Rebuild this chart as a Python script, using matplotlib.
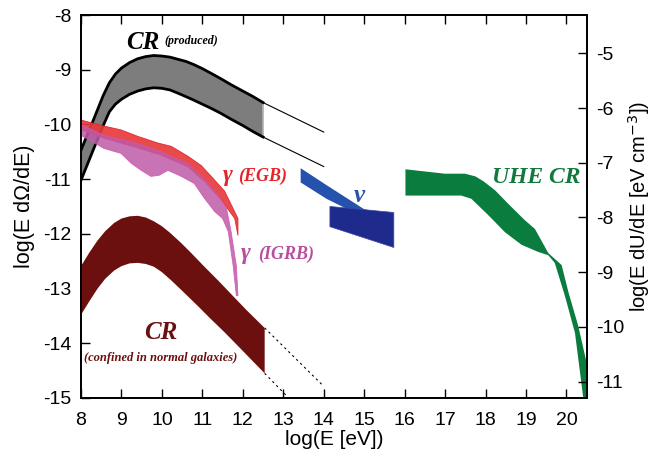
import matplotlib
matplotlib.use("Agg")
import matplotlib.pyplot as plt
import numpy as np

plt.rcParams['axes.unicode_minus'] = False
SANS = ['Liberation Sans', 'DejaVu Sans']
SERIF = ['Liberation Serif', 'DejaVu Serif']

# ---------------- data (log10 E [eV], log10 E dOmega/dE) ----------------
# CR produced (grey band)
cr_prod_up_x = [8.0, 8.3, 8.55, 8.7, 8.85, 9.0, 9.2, 9.4, 9.6, 9.8, 10.0, 10.2, 10.4, 10.6, 10.8, 11.0,
                11.2, 11.47, 11.7, 12.0, 12.25, 12.5]
cr_prod_up_y = [-10.47, -9.93, -9.47, -9.24, -9.08, -8.97, -8.87, -8.8, -8.76, -8.74, -8.75, -8.77, -8.81,
                -8.85, -8.91, -8.98, -9.06, -9.17, -9.27, -9.39, -9.49, -9.6]
cr_prod_lo_x = [8.0, 8.3, 8.55, 8.7, 8.85, 9.0, 9.2, 9.4, 9.6, 9.8, 10.0, 10.2, 10.4, 10.62, 10.8, 11.0,
                11.2, 11.44, 11.7, 12.0, 12.25, 12.5]
cr_prod_lo_y = [-11.02, -10.47, -10.02, -9.77, -9.63, -9.54, -9.45, -9.39, -9.35, -9.33, -9.34, -9.37,
                -9.43, -9.5, -9.56, -9.63, -9.7, -9.79, -9.9, -10.02, -10.13, -10.23]
cr_prod_ext_x = [12.5, 14.0]
cr_prod_ext_up = [-9.6, -10.14]
cr_prod_ext_lo = [-10.23, -10.77]

# gamma EGB (red band)
egb_up_x = [8.0, 8.57, 8.99, 9.41, 9.9, 10.23, 10.64, 10.97, 11.22, 11.55, 11.88, 11.88]
egb_up_y = [-9.92, -10.03, -10.1, -10.22, -10.34, -10.4, -10.58, -10.75, -10.95, -11.22, -11.72, -12.03]
egb_lo_x = [8.0, 8.57, 9.41, 9.98, 10.64, 11.05, 11.47, 11.8, 11.88]
egb_lo_y = [-10.1, -10.25, -10.43, -10.56, -10.77, -11.04, -11.38, -11.72, -12.03]

# gamma IGRB (magenta band)
igrb_up_x = [8.0, 8.57, 9.41, 9.98, 10.64, 11.05, 11.39, 11.6, 11.71, 11.84, 11.88]
igrb_up_y = [-10.0, -10.2, -10.35, -10.5, -10.72, -11.0, -11.3, -11.54, -11.96, -12.58, -13.13]
igrb_lo_x = [8.0, 8.57, 8.99, 9.24, 9.49, 9.73, 9.93, 10.15, 10.48, 10.8, 11.05, 11.3, 11.5, 11.64,
             11.76, 11.84]
igrb_lo_y = [-10.2, -10.44, -10.53, -10.71, -10.84, -10.95, -10.93, -10.84, -10.95, -11.08, -11.35,
             -11.59, -11.72, -11.96, -12.58, -13.13]

# neutrinos (two blue bands)
nu1_x = [13.43, 14.07, 15.0, 15.6]
nu1_up = [-10.8, -11.11, -11.55, -11.64]
nu1_lo = [-11.06, -11.36, -11.7, -11.95]
nu2_x = [14.14, 15.72]
nu2_up = [-11.49, -11.6]
nu2_lo = [-11.86, -12.24]

# UHE CR (green band)
uhe_up_x = [16.02, 16.99, 17.49, 17.75, 17.95, 18.23, 18.56, 18.97, 19.22, 19.55, 19.88, 20.05, 20.29,
            20.5, 20.6]
uhe_up_y = [-10.82, -10.9, -10.9, -10.95, -11.04, -11.2, -11.45, -11.75, -11.91, -12.35, -12.57, -13.07,
            -13.68, -14.36, -14.7]
uhe_lo_x = [16.02, 16.66, 17.4, 17.65, 18.07, 18.48, 18.89, 19.3, 19.55, 19.71, 19.96, 20.21, 20.41, 20.5]
uhe_lo_y = [-11.3, -11.3, -11.3, -11.36, -11.66, -11.97, -12.2, -12.33, -12.39, -12.53, -13.13, -13.81,
            -14.97, -15.3]

# CR confined in normal galaxies (dark red band)
crc_up_x = [8.0, 8.2, 8.41, 8.6, 8.82, 9.0, 9.2, 9.4, 9.6, 9.8, 10.0, 10.2, 10.48, 10.75, 11.05, 11.4,
            11.71, 12.1, 12.54]
crc_up_y = [-12.59, -12.35, -12.12, -11.95, -11.8, -11.72, -11.68, -11.67, -11.7, -11.77, -11.86, -11.98,
            -12.17, -12.37, -12.6, -12.86, -13.1, -13.4, -13.72]
crc_lo_x = [8.0, 8.2, 8.41, 8.6, 8.82, 9.0, 9.2, 9.4, 9.6, 9.8, 10.0, 10.23, 10.5, 10.89, 11.2, 11.55,
            12.0, 12.54]
crc_lo_y = [-13.48, -13.24, -13.0, -12.82, -12.67, -12.59, -12.54, -12.53, -12.55, -12.6, -12.7, -12.85,
            -13.04, -13.32, -13.55, -13.8, -14.14, -14.55]
crc_ext_up_x = [12.54, 13.95]
crc_ext_up_y = [-13.72, -14.75]
crc_ext_lo_x = [12.54, 13.2]
crc_ext_lo_y = [-14.55, -15.05]

xticks = list(range(8, 21))
yticks_left = list(range(-15, -7))
yticks_right = list(range(-11, -4))
right_offset = 3.70

# ---------------- figure ----------------
fig = plt.figure(figsize=(6.57, 4.55), dpi=100)
ax = fig.add_axes([81/657, 1-398/455, (586.7-81)/657, (398-15)/455])


def band(xu, yu, xl, yl, **kw):
    xs = np.concatenate([np.asarray(xu), np.asarray(xl)[::-1]])
    ys = np.concatenate([np.asarray(yu), np.asarray(yl)[::-1]])
    ax.fill(xs, ys, **kw)


# CR produced
band(cr_prod_up_x, cr_prod_up_y, cr_prod_lo_x, cr_prod_lo_y, facecolor='#7d7d7d', edgecolor='none', zorder=2)
ax.plot([cr_prod_up_x[-1], cr_prod_lo_x[-1]], [cr_prod_up_y[-1], cr_prod_lo_y[-1]], color='#b0b0b0',
        lw=1.2, zorder=2)
ax.plot(cr_prod_up_x, cr_prod_up_y, color='black', lw=2.0, zorder=3, solid_joinstyle='round')
ax.plot(cr_prod_lo_x, cr_prod_lo_y, color='black', lw=2.0, zorder=3, solid_joinstyle='round')
ax.plot(cr_prod_ext_x, cr_prod_ext_up, color='black', lw=0.8, zorder=3)
ax.plot(cr_prod_ext_x, cr_prod_ext_lo, color='black', lw=0.8, zorder=3)

# gamma bands
band(egb_up_x, egb_up_y, egb_lo_x, egb_lo_y, facecolor='#e83a3c', edgecolor='#e0202a', lw=0.6,
     alpha=0.92, zorder=4)
band(igrb_up_x, igrb_up_y, igrb_lo_x, igrb_lo_y, facecolor='#bf5aa6', edgecolor='#d255b0', lw=0.6,
     alpha=0.85, zorder=5)

# neutrinos
ax.fill_between(nu1_x, nu1_up, nu1_lo, facecolor='#2452ad', edgecolor='none', zorder=4)
ax.fill_between(nu2_x, nu2_up, nu2_lo, facecolor='#1e2a8c', edgecolor='#3a4aa8', lw=0.5, zorder=5)

# UHE CR
band(uhe_up_x, uhe_up_y, uhe_lo_x, uhe_lo_y, facecolor='#0a7c3e', edgecolor='none', zorder=4)

# CR confined
band(crc_up_x, crc_up_y, crc_lo_x, crc_lo_y, facecolor='#6c0f0f', edgecolor='none', zorder=4)
ax.plot(crc_ext_up_x, crc_ext_up_y, color='black', lw=0.8, ls=(0, (2, 3)), zorder=3)
ax.plot(crc_ext_lo_x, crc_ext_lo_y, color='black', lw=0.8, ls=(0, (2, 3)), zorder=3)

# ---------------- annotations ----------------
ax.text(9.11, -8.62, 'CR', family=SERIF, weight='bold', style='italic', fontsize=18, color='black',
        ha='left', va='baseline')
ax.text(10.05, -8.47, '(produced)', family=SERIF, weight='bold', style='italic', fontsize=8.6,
        color='black', ha='left', va='center')
ax.text(11.5, -10.94, 'γ', family=SERIF, style='italic', weight='bold', fontsize=17, color='#e3242b',
        ha='left', va='center')
ax.text(11.89, -10.94, '(EGB)', family=SERIF, weight='bold', style='italic', fontsize=13, color='#e3242b',
        ha='left', va='center')
ax.text(11.95, -12.35, 'γ', family=SERIF, style='italic', weight='bold', fontsize=17, color='#b64f9e',
        ha='left', va='center')
ax.text(12.38, -12.38, '(IGRB)', family=SERIF, weight='bold', style='italic', fontsize=13, color='#b64f9e',
        ha='left', va='center')
ax.text(14.88, -11.29, 'ν', family=SERIF, style='italic', weight='bold', fontsize=18, color='#2b55a8',
        ha='center', va='center')
ax.text(19.26, -10.97, 'UHE CR', family=SERIF, weight='bold', style='italic', fontsize=17, color='#0f7a3c',
        ha='center', va='center')
ax.text(9.98, -13.8, 'CR', family=SERIF, weight='bold', style='italic', fontsize=18, color='#6b1010',
        ha='center', va='center')
ax.text(9.96, -14.26, '(confined in normal galaxies)', family=SERIF, weight='bold', style='italic',
        fontsize=9.0, color='#6b1010', ha='center', va='center')

# ---------------- axes ----------------
ax.set_xlim(8, 20.5)
ax.set_ylim(-15, -8)
ax.set_xticks(xticks)
ax.set_yticks(yticks_left)
ax.tick_params(axis='both', direction='in', length=6.5, width=1.0, labelsize=14, pad=7)
ax.tick_params(axis='x', top=True, labeltop=False, pad=10)
for lab in ax.get_xticklabels() + ax.get_yticklabels():
    lab.set_family(SANS)
for s in ax.spines.values():
    s.set_linewidth(1.3)
ax.set_xlabel('log(E [eV])', family=SANS, fontsize=15, labelpad=1)
ax.set_ylabel('log(E dΩ/dE)', family=SANS, fontsize=15.5, labelpad=6)

ax2 = ax.twinx()
ax2.set_ylim(-15 + right_offset, -8 + right_offset)
ax2.set_yticks(yticks_right)
ax2.tick_params(axis='y', direction='in', length=6.5, width=1.0, labelsize=14, pad=7)
for lab in ax2.get_yticklabels():
    lab.set_family(SANS)
for s in ax2.spines.values():
    s.set_linewidth(1.3)
ax2.set_ylabel('log(E dU/dE [eV cm$^{-3}$])', family=SANS, fontsize=14.5, labelpad=1)

fig.savefig('out.png', dpi=100)
